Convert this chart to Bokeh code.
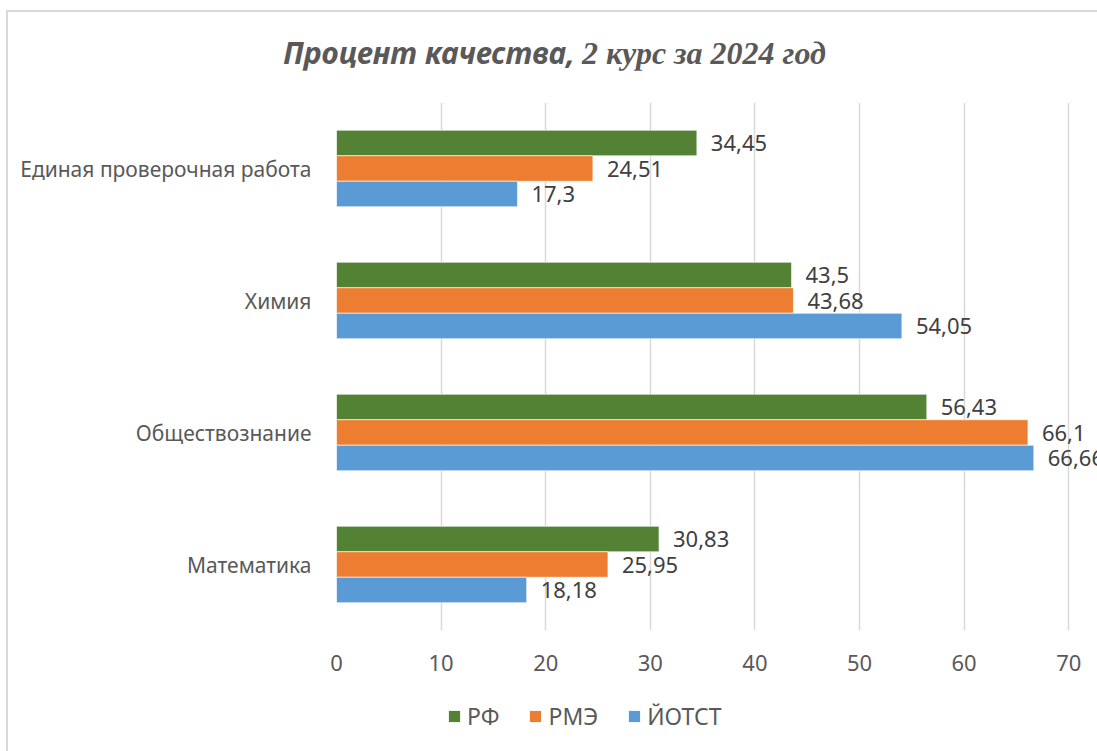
from bokeh.plotting import figure
from bokeh.models import (ColumnDataSource, FactorRange, Range1d, FixedTicker,
                          LabelSet, Legend, LegendItem, Div)
from bokeh.layouts import column
from bokeh.transform import dodge
from bokeh.core.properties import value
from bokeh.embed import file_html
from bokeh.resources import INLINE

categories = ["Математика", "Обществознание", "Химия", "Единая проверочная работа"]
series_names = ["РФ", "РМЭ", "ЙОТСТ"]
rf = [30.83, 56.43, 43.5, 34.45]
rme = [25.95, 66.1, 43.68, 24.51]
yotst = [18.18, 66.66, 54.05, 17.3]
x_ticks = [0, 10, 20, 30, 40, 50, 60, 70]
colors = ["#548235", "#ED7D31", "#5B9BD5"]
title_part1 = "Процент качества,"
title_part2 = "2 курс за 2024 год"

def fmt(v):
    return ("%g" % v).replace(".", ",")

OX, OY = 8, 12          # where the bordered chart area content starts on the page
W = 1097 - OX
DIV_H = 58
LEG_H = 61
H = 751 - OY - DIV_H - LEG_H

title_div = Div(
    text=('<span style="font-family:\'Noto Sans\';font-style:italic;font-weight:bold;'
          'font-size:30px;">%s</span><span style="font-family:\'Liberation Serif\';'
          'font-style:italic;font-weight:bold;font-size:32px;margin-left:7px;">%s</span>')
         % (title_part1, title_part2),
    width=W, height=DIV_H, margin=0,
    styles={"color": "#595959", "text-align": "center", "padding-top": "25px",
            "padding-left": "4px", "line-height": "1", "box-sizing": "border-box"})

p = figure(width=W, height=H, y_range=FactorRange(*categories, range_padding=0),
           x_range=Range1d(0, 72.75), output_backend="svg", toolbar_location=None,
           min_border_left=336 - OX, min_border_right=0,
           min_border_top=102 - OY - DIV_H,
           min_border_bottom=H - (630 - OY - DIV_H))
p.outline_line_color = None
p.background_fill_color = "white"
p.border_fill_color = "white"

bw = 0.193
offsets = [bw, 0.0, -bw]
sources = []
for vals, off, col in zip([rf, rme, yotst], offsets, colors):
    src = ColumnDataSource(dict(cat=categories, v=vals, lab=[fmt(v) for v in vals]))
    sources.append(src)
    p.hbar(y=dodge("cat", off, range=p.y_range), right="v", left=0, height=bw,
           source=src, fill_color=col, line_color="white", line_width=0.6)
    ls = LabelSet(x="v", y=dodge("cat", off, range=p.y_range), text="lab", source=src,
                  x_offset=14, text_baseline="middle", text_font=value("Noto Sans"),
                  text_font_size=value("22px"), text_color="#404040")
    p.add_layout(ls)

p.xgrid.ticker = FixedTicker(ticks=x_ticks)
p.xaxis.ticker = FixedTicker(ticks=x_ticks)
p.xgrid.grid_line_color = "#d9d9d9"
p.xgrid.grid_line_width = 1.5
p.ygrid.grid_line_color = None

for ax in (p.xaxis, p.yaxis):
    ax.axis_line_color = None
    ax.major_tick_line_color = None
    ax.minor_tick_line_color = None
    ax.major_label_text_color = "#595959"
    ax.major_label_text_font = "Noto Sans"
p.xaxis.major_label_text_font_size = "22px"
p.xaxis.major_label_standoff = 18
p.yaxis.major_label_text_font_size = "21px"
p.yaxis.major_label_standoff = 19

# legend strip: same series drawn outside its visible range, only the legend shows
lp = figure(width=W, height=LEG_H, x_range=Range1d(-2, -1),
            y_range=FactorRange(*categories),
            output_backend="svg", toolbar_location=None, min_border=0)
lp.axis.visible = False
lp.grid.visible = False
lp.outline_line_color = None
items = []
for name, col, src in zip(series_names, colors, sources):
    r = lp.hbar(y="cat", right="v", left=0, height=0.5, source=src,
                fill_color=col, line_color=None)
    items.append(LegendItem(label=name, renderers=[r]))
legend = Legend(items=items, orientation="horizontal", location=(111, 19),
                glyph_width=14, glyph_height=14, label_standoff=6, spacing=29,
                label_text_font="Noto Sans", label_text_font_size="23px",
                label_text_color="#595959", border_line_color=None,
                background_fill_alpha=0, padding=0, margin=0)
lp.add_layout(legend)

layout = column(title_div, p, lp, spacing=0, margin=(10, 0, 0, 6),
                styles={"border-left": "2px solid #d9d9d9",
                        "border-top": "2px solid #d9d9d9"})
open("out.html", "w").write(file_html(layout, INLINE))
